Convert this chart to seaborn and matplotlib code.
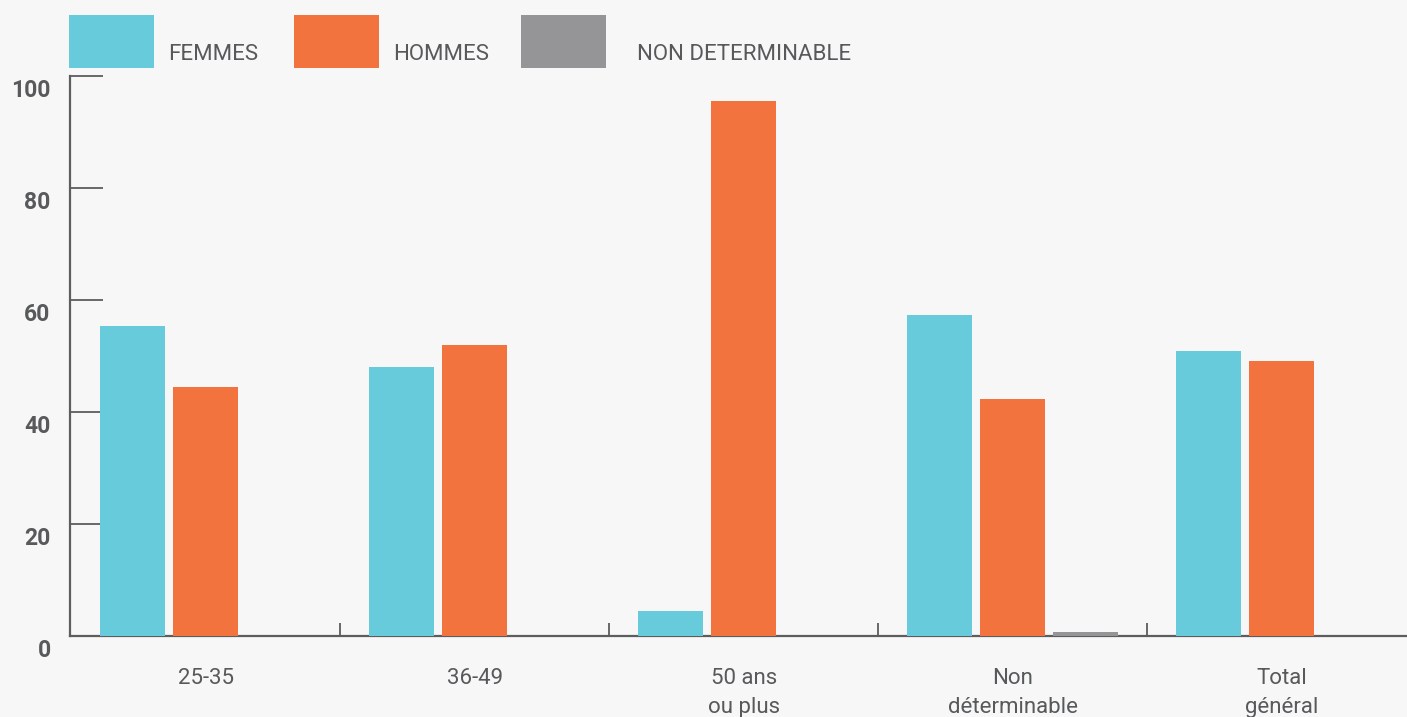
import matplotlib
matplotlib.use("Agg")
import matplotlib.pyplot as plt
from matplotlib.patches import Rectangle
from matplotlib.transforms import ScaledTranslation
import seaborn as sns
import pandas as pd

# Age groups and share (%) of each gender within the group
categories = ["25-35", "36-49", "50 ans\nou plus", "Non\ndéterminable", "Total\ngénéral"]
femmes = [55.3, 48.0, 4.4, 57.3, 50.8]
hommes = [44.4, 51.9, 95.6, 42.3, 49.0]
non_determinable = [None, None, None, 0.7, None]
series_names = ["FEMMES", "HOMMES", "NON DETERMINABLE"]
y_ticks = [0, 20, 40, 60, 80, 100]

colors = ["#68cbdb", "#f3733f", "#959598"]
bg = "#f6f7f6"
ink = "#58595b"
axis_col = "#5d5d5d"

rows = []
for name, vals in zip(series_names, [femmes, hommes, non_determinable]):
    for cat, v in zip(categories, vals):
        if v is not None:
            rows.append({"groupe": cat, "serie": name, "valeur": v})
df = pd.DataFrame(rows)

sns.set_style("white")
plt.rcParams["font.family"] = ["Roboto", "DejaVu Sans"]

W, H, DPI = 1407, 717, 100
fig = plt.figure(figsize=(W / DPI, H / DPI), dpi=DPI, facecolor=bg)
ax = fig.add_axes([70 / W, 81.3 / H, (W - 70) / W, 559.7 / H])
ax.set_facecolor(bg)

sns.barplot(data=df, x="groupe", y="valeur", hue="serie",
            order=categories, hue_order=series_names,
            palette=colors, width=0.815, gap=0.11,
            saturation=1, linewidth=0, legend=False, ax=ax, zorder=3)

ax.set_xlim(-0.505, 4.465)
ax.set_ylim(0, 100)
ax.set_xlabel("")
ax.set_ylabel("")

for side in ["top", "right"]:
    ax.spines[side].set_visible(False)
for side in ["left", "bottom"]:
    ax.spines[side].set_color(axis_col)
    ax.spines[side].set_linewidth(1.6)
    ax.spines[side].set_zorder(2)

# y axis: long inward ticks, bold labels set slightly below the tick
ax.set_yticks(y_ticks)
ax.set_yticklabels([str(t) for t in y_ticks], fontweight="bold")
ax.tick_params(axis="y", left=True, direction="in", length=24, width=1.3,
               color=axis_col, labelsize=16.5, labelcolor=ink, pad=14)
shift = ScaledTranslation(0, -12 / DPI, fig.dpi_scale_trans)
for lab in ax.get_yticklabels():
    lab.set_transform(lab.get_transform() + shift)

# x axis: labels at group centres, short inward ticks between groups
ax.set_xticks(range(len(categories)))
ax.set_xticklabels(categories, linespacing=1.5)
ax.tick_params(axis="x", which="major", bottom=False, length=0,
               labelsize=16, labelcolor=ink, pad=23)
ax.set_xticks([i + 0.5 for i in range(len(categories) - 1)], minor=True)
ax.tick_params(axis="x", which="minor", bottom=True, direction="in",
               length=9.5, width=1.3, color=axis_col)

# legend: colour blocks with labels across the top
legend_items = [(69, 168), (294, 393), (521, 637)]
for (px, tx), name, c in zip(legend_items, series_names, colors):
    fig.add_artist(Rectangle((px / W, (H - 68) / H), 85 / W, 53 / H,
                             transform=fig.transFigure, facecolor=c,
                             edgecolor="none"))
    fig.text(tx / W, (H - 55) / H, name, fontsize=16, color=ink,
             va="center", ha="left")

fig.savefig("out.png", dpi=DPI, facecolor=bg)
